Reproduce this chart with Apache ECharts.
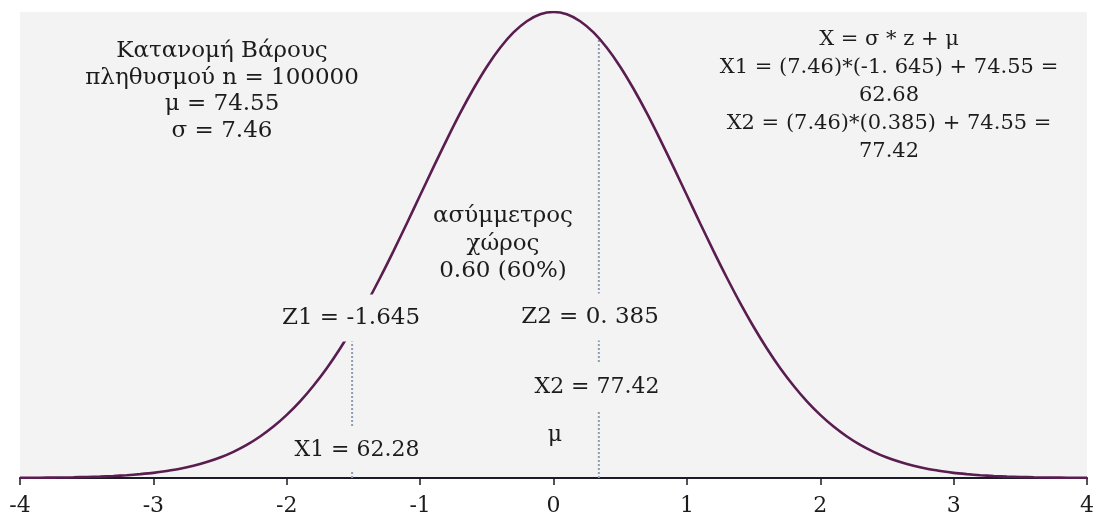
<!DOCTYPE html>
<html>
<head>
<meta charset="utf-8">
<script src="https://cdn.jsdelivr.net/npm/echarts@6/dist/echarts.min.js"></script>
<style>
html,body{margin:0;padding:0;background:#ffffff;}
#chart{width:1097px;height:519px;}
</style>
</head>
<body>
<div id="chart"></div>
<script>
// z values along the curve (step 0.1) and the density
const curveZ = [-4.0, -3.9, -3.8, -3.7, -3.6, -3.5, -3.4, -3.3, -3.2, -3.1,
                -3.0, -2.9, -2.8, -2.7, -2.6, -2.5, -2.4, -2.3, -2.2, -2.1,
                -2.0, -1.9, -1.8, -1.7, -1.6, -1.5, -1.4, -1.3, -1.2, -1.1,
                -1.0, -0.9, -0.8, -0.7, -0.6, -0.5, -0.4, -0.3, -0.2, -0.1,
                 0.0,
                 0.1, 0.2, 0.3, 0.4, 0.5, 0.6, 0.7, 0.8, 0.9, 1.0,
                 1.1, 1.2, 1.3, 1.4, 1.5, 1.6, 1.7, 1.8, 1.9, 2.0,
                 2.1, 2.2, 2.3, 2.4, 2.5, 2.6, 2.7, 2.8, 2.9, 3.0,
                 3.1, 3.2, 3.3, 3.4, 3.5, 3.6, 3.7, 3.8, 3.9, 4.0];
const curveDensity = [0.0001, 0.0002, 0.0003, 0.0004, 0.0006, 0.0009, 0.0012, 0.0017, 0.0024, 0.0033,
                      0.0044, 0.0060, 0.0079, 0.0104, 0.0136, 0.0175, 0.0224, 0.0283, 0.0355, 0.0440,
                      0.0540, 0.0656, 0.0790, 0.0940, 0.1109, 0.1295, 0.1497, 0.1714, 0.1942, 0.2179,
                      0.2420, 0.2661, 0.2897, 0.3123, 0.3332, 0.3521, 0.3683, 0.3814, 0.3910, 0.3970,
                      0.3989,
                      0.3970, 0.3910, 0.3814, 0.3683, 0.3521, 0.3332, 0.3123, 0.2897, 0.2661, 0.2420,
                      0.2179, 0.1942, 0.1714, 0.1497, 0.1295, 0.1109, 0.0940, 0.0790, 0.0656, 0.0540,
                      0.0440, 0.0355, 0.0283, 0.0224, 0.0175, 0.0136, 0.0104, 0.0079, 0.0060, 0.0044,
                      0.0033, 0.0024, 0.0017, 0.0012, 0.0009, 0.0006, 0.0004, 0.0003, 0.0002, 0.0001];
// dotted cut lines (as drawn) and where they meet the curve
const cutZ = [-1.51, 0.34];
const cutTop = [0.1276, 0.3765];
// x axis tick labels
const tickLabels = ['-4', '-3', '-2', '-1', '0', '1', '2', '3', '4'];

const leftText = 'Κατανομή Βάρους\nπληθυσμού n = 100000\nμ = 74.55\nσ = 7.46';
const rightText = 'X = σ * z + μ\nX1 = (7.46)*(-1. 645) + 74.55 =\n62.68\nX2 = (7.46)*(0.385) + 74.55 =\n77.42';
const midText = 'ασύμμετρος\nχώρος\n0.60 (60%)';
const z1Text = 'Z1 = -1.645';
const z2Text = 'Z2 = 0. 385';
const x2Text = 'X2 = 77.42';
const muText = 'μ';
const x1Text = 'X1 = 62.28';

const FONT = '"DejaVu Serif", serif';
const BG = '#f3f3f3';
const TXT = '#1c1c1c';

const curveData = curveZ.map((z, i) => [z, curveDensity[i]]);
const cutSeries = cutZ.map((z, i) => ({
  type: 'line',
  data: [[z, 0], [z, cutTop[i]]],
  symbol: 'none',
  silent: true,
  z: 1,
  lineStyle: { color: '#8e9db3', width: 2, type: [2, 2] }
}));

function txt(text, x, y, size, lh) {
  return {
    type: 'text',
    z: 100,
    silent: true,
    style: {
      text: text, x: x, y: y,
      font: size + 'px ' + FONT,
      fill: TXT,
      align: 'center',
      verticalAlign: 'middle',
      lineHeight: lh
    }
  };
}
function boxTxt(text, x, y, size, pad) {
  const t = txt(text, x, y, size, size + 2);
  t.style.backgroundColor = BG;
  t.style.padding = pad;
  return t;
}

const chart = echarts.init(document.getElementById('chart'), null, { renderer: 'canvas' });
chart.setOption({
  animation: false,
  backgroundColor: '#ffffff',
  grid: { left: 20, right: 9, top: 12, bottom: 41, show: true, backgroundColor: BG, borderWidth: 0 },
  xAxis: {
    type: 'value',
    min: -4, max: 4, interval: 1,
    axisLine: { show: true, lineStyle: { color: '#1a1a28', width: 2 } },
    axisTick: { show: true, length: 7, lineStyle: { color: '#1a1a28', width: 1.5 } },
    splitLine: { show: false },
    axisLabel: {
      margin: 17,
      fontSize: 22,
      fontFamily: FONT,
      color: TXT,
      formatter: function (v) { return tickLabels[Math.round(v) + 4]; }
    }
  },
  yAxis: { type: 'value', min: 0, max: 0.3989, show: false, splitLine: { show: false } },
  series: [
    {
      type: 'line',
      data: curveData,
      smooth: 0.3,
      symbol: 'none',
      silent: true,
      z: 3,
      lineStyle: { color: '#5a1d50', width: 2.6 }
    }
  ].concat(cutSeries),
  graphic: [
    txt(leftText, 222, 91, 23, 26.5),
    txt(rightText, 889, 96, 21, 28),
    txt(midText, 503, 244, 23, 27.5),
    boxTxt(z1Text, 351, 318, 23, [10, 6, 12, 6]),
    boxTxt(z2Text, 590, 317, 23, [11, 6, 11, 6]),
    boxTxt(x2Text, 597, 387, 22, [11, 6, 11, 6]),
    txt(muText, 555, 435, 22, 22),
    boxTxt(x1Text, 357, 450, 22, [9, 6, 11, 6])
  ]
});
</script>
</body>
</html>
